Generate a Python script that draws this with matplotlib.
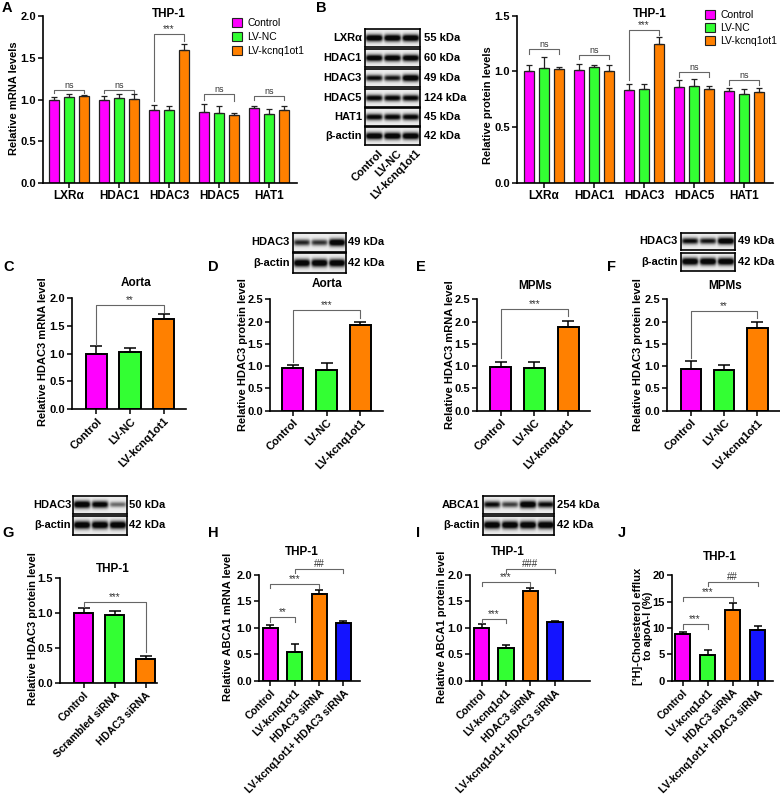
import numpy as np
import matplotlib
matplotlib.use('Agg')
import matplotlib.pyplot as plt
from matplotlib.patches import Patch

plt.rcParams['font.family'] = ['Liberation Sans', 'DejaVu Sans']
plt.rcParams['font.weight'] = 'bold'
plt.rcParams['axes.labelweight'] = 'bold'
plt.rcParams['font.size'] = 8

W, H = 780, 798
fig = plt.figure(figsize=(7.8, 7.98), dpi=100)

# ---------------- data ----------------
colors3 = ['#FF00FF', '#33FF33', '#FF8000']
colors4 = ['#FF00FF', '#33FF33', '#FF8000', '#1414FF']

genes = ['LXRα', 'HDAC1', 'HDAC3', 'HDAC5', 'HAT1']
groups3 = ['Control', 'LV-NC', 'LV-kcnq1ot1']
groups_si = ['Control', 'Scrambled siRNA', 'HDAC3 siRNA']
groups4 = ['Control', 'LV-kcnq1ot1', 'HDAC3 siRNA', 'LV-kcnq1ot1+ HDAC3 siRNA']

A_ctrl = [0.99, 1.00, 0.88, 0.85, 0.90]
A_ctrl_err = [0.04, 0.04, 0.06, 0.10, 0.03]
A_nc = [1.03, 1.02, 0.88, 0.84, 0.83]
A_nc_err = [0.04, 0.05, 0.04, 0.08, 0.06]
A_kc = [1.04, 1.01, 1.59, 0.82, 0.88]
A_kc_err = [0.02, 0.06, 0.08, 0.02, 0.05]

B_ctrl = [1.00, 1.015, 0.835, 0.862, 0.82]
B_ctrl_err = [0.057, 0.05, 0.055, 0.058, 0.03]
B_nc = [1.03, 1.04, 0.845, 0.87, 0.80]
B_nc_err = [0.10, 0.02, 0.045, 0.06, 0.04]
B_kc = [1.025, 1.00, 1.25, 0.84, 0.817]
B_kc_err = [0.01, 0.06, 0.06, 0.03, 0.033]

C_vals = [0.99, 1.03, 1.61]
C_err = [0.14, 0.06, 0.10]
D_vals = [0.95, 0.91, 1.92]
D_err = [0.07, 0.15, 0.06]
E_vals = [0.99, 0.965, 1.88]
E_err = [0.11, 0.135, 0.14]
F_vals = [0.94, 0.91, 1.85]
F_err = [0.17, 0.12, 0.15]
G_vals = [0.995, 0.975, 0.345]
G_err = [0.07, 0.045, 0.045]
H_vals = [0.995, 0.55, 1.63, 1.095]
H_err = [0.055, 0.14, 0.09, 0.035]
I_vals = [0.998, 0.61, 1.70, 1.117]
I_err = [0.07, 0.06, 0.045, 0.02]
J_vals = [8.9, 4.88, 13.4, 9.56]
J_err = [0.3, 0.9, 1.3, 0.85]

# blot band intensities
blotB_names = ['LXRα', 'HDAC1', 'HDAC3', 'HDAC5', 'HAT1', 'β-actin']
blotB_kda = ['55 kDa', '60 kDa', '49 kDa', '124 kDa', '45 kDa', '42 kDa']
blotB_int = [[1, 1, 1], [0.95, 0.95, 0.95], [0.8, 0.75, 1.0], [0.85, 0.85, 0.85],
             [0.85, 0.85, 0.85], [1, 1, 1]]
blotD_int = [[0.7, 0.65, 1.0], [1, 1, 1]]
blotF_int = [[0.8, 0.75, 1.0], [1, 1, 1]]
blotG_int = [[1.0, 0.9, 0.45], [1, 1, 1]]
blotI_int = [[0.8, 0.6, 1.0, 0.8], [1, 1, 1, 1]]


# ---------------- helpers ----------------
def axpx(l, t, r, b):
    return fig.add_axes([l / W, 1 - b / H, (r - l) / W, (b - t) / H])


def ftext(x, y, s, **kw):
    return fig.text(x / W, 1 - y / H, s, **kw)


def style_axes(ax, ylim, yticks, fmt):
    for s in ['top', 'right']:
        ax.spines[s].set_visible(False)
    for s in ['left', 'bottom']:
        ax.spines[s].set_linewidth(1.2)
    ax.set_ylim(*ylim)
    ax.set_yticks(yticks)
    ax.set_yticklabels([fmt.format(v) for v in yticks], fontsize=8, fontweight='bold')
    ax.tick_params(direction='out', length=3.5, width=1.1, pad=1.5)
    ax.set_facecolor('none')


def bracket(ax, x1, x2, y, l1, l2, txt, fs=7):
    ax.plot([x1, x1, x2, x2], [l1, y, y, l2], color='#666666', lw=0.8,
            clip_on=False, zorder=5)
    ax.text((x1 + x2) / 2, y, txt, ha='center', va='bottom', fontsize=fs,
            fontweight='normal', color='#333333')


def blot(left, right, rows, names, inten, kdas, name_x, kda_x):
    for (t, b), name, lane_int, kda in zip(rows, names, inten, kdas):
        ax = axpx(left, t, right, b)
        n = len(lane_int)
        x = np.linspace(0, n, 300)
        y = np.linspace(0, 1, 40)
        X, Y = np.meshgrid(x, y)
        dark = np.zeros_like(X)
        for i, a in enumerate(lane_int):
            fx = 1 / (1 + np.exp((np.abs(X - (i + 0.5)) - 0.44) / 0.05))
            fy = np.exp(-((Y - 0.5) / (0.10 + 0.10 * a)) ** 2)
            dark = np.maximum(dark, a * fx * fy)
        img = 0.93 - 0.9 * np.clip(dark * 1.3, 0, 1)
        ax.imshow(img, cmap='gray', vmin=0, vmax=1, extent=[0, n, 0, 1],
                  aspect='auto', interpolation='bilinear')
        ax.set_xticks([])
        ax.set_yticks([])
        for s in ax.spines.values():
            s.set_linewidth(1.2)
        ftext(name_x, (t + b) / 2, name, ha='right', va='center', fontsize=8)
        ftext(kda_x, (t + b) / 2, kda, ha='left', va='center', fontsize=8)


def simple_panel(box, cats, vals, errs, colors, xlim, width, ylim, yticks, fmt,
                 ylabel, ylab_xy, title, title_xy, capsize, labfs=8):
    ax = axpx(*box)
    x = np.arange(len(cats))
    ax.bar(x, vals, width=width, color=colors, edgecolor='black', linewidth=1.4, zorder=2)
    ax.errorbar(x, vals, yerr=[np.zeros(len(vals)), errs], fmt='none', ecolor='black',
                elinewidth=1.1, capsize=capsize, capthick=1.1, zorder=3)
    ax.set_xlim(*xlim)
    style_axes(ax, ylim, yticks, fmt)
    ax.set_xticks(x)
    ax.set_xticklabels(cats, rotation=45, ha='right', rotation_mode='anchor',
                       fontsize=labfs, fontweight='bold')
    ax.set_ylabel(ylabel, fontsize=8, fontweight='bold')
    ax.yaxis.set_label_coords(ylab_xy[0] / W, 1 - ylab_xy[1] / H, transform=fig.transFigure)
    ax.yaxis.label.set_va('center')
    ftext(title_xy[0], title_xy[1], title, ha='center', va='center', fontsize=8.5)
    return ax


def grouped_panel(box, vals_list, errs_list, xlim, ylim, yticks, ylabel, ylab_xy,
                  title_xy):
    ax = axpx(*box)
    x = np.arange(len(genes))
    offs = [-0.3, 0.0, 0.3]
    for v, e, c, o in zip(vals_list, errs_list, colors3, offs):
        ax.bar(x + o, v, width=0.19, color=c, edgecolor='#222222', linewidth=0.9, zorder=2)
        ax.errorbar(x + o, v, yerr=[np.zeros(len(v)), e], fmt='none', ecolor='#222222',
                    elinewidth=0.9, capsize=2.3, capthick=0.9, zorder=3)
    ax.set_xlim(*xlim)
    style_axes(ax, ylim, yticks, '{:.1f}')
    ax.set_xticks(x)
    ax.set_xticklabels(genes, fontsize=8.5, fontweight='bold')
    ax.set_ylabel(ylabel, fontsize=8, fontweight='bold')
    ax.yaxis.set_label_coords(ylab_xy[0] / W, 1 - ylab_xy[1] / H, transform=fig.transFigure)
    ax.yaxis.label.set_va('center')
    ftext(title_xy[0], title_xy[1], 'THP-1', ha='center', va='center', fontsize=8.5)
    return ax


def legend3(x, y, spacing):
    handles = [Patch(facecolor=c, edgecolor='#222222', linewidth=0.8) for c in colors3]
    fig.legend(handles, groups3, loc='upper left', bbox_to_anchor=(x / W, 1 - y / H),
               frameon=False, prop={'size': 7.5, 'weight': 'normal'},
               handlelength=1.0, handleheight=1.0, handletextpad=0.45,
               labelspacing=spacing, borderpad=0, borderaxespad=0)


# ---------------- Panel A ----------------
axA = grouped_panel((43, 16, 297, 183.3), [A_ctrl, A_nc, A_kc],
                    [A_ctrl_err, A_nc_err, A_kc_err], (-0.52, 4.56), (0, 2.0),
                    [0, 0.5, 1.0, 1.5, 2.0], 'Relative mRNA levels', (14, 98), (169, 14))
bracket(axA, -0.3, 0.3, 1.12, 1.08, 1.08, 'ns', 6.5)
bracket(axA, 0.7, 1.3, 1.12, 1.08, 1.08, 'ns', 6.5)
bracket(axA, 1.7, 2.3, 1.78, 0.98, 1.70, '***', 7)
bracket(axA, 2.7, 3.3, 1.07, 1.00, 0.98, 'ns', 6.5)
bracket(axA, 3.7, 4.3, 1.04, 0.99, 0.99, 'ns', 6.5)
legend3(232, 18, 0.35)

# ---------------- Panel B blot ----------------
rowsB = [(28.7, 46.7), (49.3, 67.3), (69.3, 87.3), (88.7, 106.7), (107.7, 125.7), (127, 145)]
blot(365, 420, rowsB, blotB_names, blotB_int, blotB_kda, 362, 424)
for i, g in enumerate(groups3):
    lx = 365 + (i + 0.5) * (420 - 365) / 3 + 4
    ftext(lx, 148, g, rotation=45, ha='right', va='top', rotation_mode='anchor', fontsize=8)

# ---------------- Panel B chart ----------------
axB = grouped_panel((517, 15.7, 773, 182.7), [B_ctrl, B_nc, B_kc],
                    [B_ctrl_err, B_nc_err, B_kc_err], (-0.54, 4.58), (0, 1.5),
                    [0, 0.5, 1.0, 1.5], 'Relative protein levels', (488, 105), (650, 14))
bracket(axB, -0.3, 0.3, 1.20, 1.16, 1.16, 'ns', 6.5)
bracket(axB, 0.7, 1.3, 1.15, 1.11, 1.11, 'ns', 6.5)
bracket(axB, 1.7, 2.3, 1.37, 0.92, 1.33, '***', 7)
bracket(axB, 2.7, 3.3, 0.99, 0.95, 0.95, 'ns', 6.5)
bracket(axB, 3.7, 4.3, 0.92, 0.88, 0.88, 'ns', 6.5)
legend3(705, 10, 0.25)

# ---------------- Panels C-F ----------------
axC = simple_panel((72, 297.7, 186, 409.3), groups3, C_vals, C_err, colors3, (-0.73, 2.67), 0.63,
                   (0, 2.0), [0, 0.5, 1.0, 1.5, 2.0], '{:.1f}', 'Relative HDAC3 mRNA level',
                   (43, 352), 'Aorta', (136, 283), 4.3)
bracket(axC, 0, 2, 1.87, 1.16, 1.74, '**')

axD = simple_panel((270, 299.3, 383, 410.7), groups3, D_vals, D_err, colors3, (-0.68, 2.67), 0.62,
                   (0, 2.5), [0, 0.5, 1.0, 1.5, 2.0, 2.5], '{:.1f}', 'Relative HDAC3 protein level',
                   (243, 355), 'Aorta', (327, 284), 4.3)
bracket(axD, 0, 2, 2.26, 1.10, 2.08, '***')
blot(293, 346, [(232.7, 251.7), (253.3, 272.7)], ['HDAC3', 'β-actin'], blotD_int,
     ['49 kDa', '42 kDa'], 290, 348)

axE = simple_panel((477, 299.3, 590, 410.7), groups3, E_vals, E_err, colors3, (-0.70, 2.65), 0.62,
                   (0, 2.5), [0, 0.5, 1.0, 1.5, 2.0, 2.5], '{:.1f}', 'Relative HDAC3 mRNA level',
                   (450, 355), 'MPMs', (535, 286), 4.3)
bracket(axE, 0, 2, 2.28, 1.19, 2.12, '***')

axF = simple_panel((667, 299.3, 780, 410.7), groups3, F_vals, F_err, colors3, (-0.72, 2.68), 0.62,
                   (0, 2.5), [0, 0.5, 1.0, 1.5, 2.0, 2.5], '{:.1f}', 'Relative HDAC3 protein level',
                   (638, 355), 'MPMs', (725, 286), 4.3)
bracket(axF, 0, 2, 2.24, 1.19, 2.09, '**')
blot(681, 735, [(232.7, 250), (252.7, 271)], ['HDAC3', 'β-actin'], blotF_int,
     ['49 kDa', '42 kDa'], 678, 738)

# ---------------- Panels G-J ----------------
axG = simple_panel((60, 577.7, 157, 683.3), groups_si, G_vals, G_err, colors3, (-0.76, 2.37), 0.62,
                   (0, 1.5), [0, 0.5, 1.0, 1.5], '{:.1f}', 'Relative HDAC3 protein level',
                   (33, 629), 'THP-1', (113, 569), 4.0, 7.6)
bracket(axG, 0, 2, 1.15, 1.09, 0.45, '***')
blot(73.3, 126.7, [(496, 514.3), (516, 535)], ['HDAC3', 'β-actin'], blotG_int,
     ['50 kDa', '42 kDa'], 71, 129)

axH = simple_panel((259, 574.7, 360, 680.7), groups4, H_vals, H_err, colors4, (-0.47, 3.68), 0.62,
                   (0, 2.0), [0, 0.5, 1.0, 1.5, 2.0], '{:.1f}', 'Relative ABCA1 mRNA level',
                   (228, 627), 'THP-1', (302, 552), 3.0, 7.6)
bracket(axH, 0, 1, 1.20, 1.11, 1.11, '**')
bracket(axH, 0, 2, 1.82, 1.74, 1.74, '***')
bracket(axH, 1, 3, 2.11, 2.03, 2.03, '##')

axI = simple_panel((470, 575, 590, 680.7), groups4, I_vals, I_err, colors4, (-0.47, 4.43), 0.62,
                   (0, 2.0), [0, 0.5, 1.0, 1.5, 2.0], '{:.1f}', 'Relative ABCA1 protein level',
                   (442, 627), 'THP-1', (508, 552), 3.0, 7.6)
bracket(axI, 0, 1, 1.17, 1.09, 1.09, '***')
bracket(axI, 0, 2, 1.87, 1.79, 1.79, '***')
bracket(axI, 1, 3, 2.11, 2.03, 2.03, '###')
blot(482.7, 554, [(496, 514.3), (516, 535)], ['ABCA1', 'β-actin'], blotI_int,
     ['254 kDa', '42 kDa'], 480, 556.7)

axJ = simple_panel((672, 575.3, 773, 680.7), groups4, J_vals, J_err, colors4, (-0.42, 3.62), 0.6,
                   (0, 20), [0, 5, 10, 15, 20], '{:.0f}', '[³H]-Cholesterol efflux\nto apoA-I (%)',
                   (643, 626), 'THP-1', (720, 557), 3.0, 7.6)
axJ.yaxis.label.set_linespacing(1.0)
bracket(axJ, 0, 1, 10.7, 9.9, 9.9, '***')
bracket(axJ, 0, 2, 15.9, 15.1, 15.1, '***')
bracket(axJ, 1, 3, 18.7, 17.9, 17.9, '##')

# ---------------- panel letters ----------------
for letter, (px, py) in zip('ABCDEFGHIJ', [(2, 8), (316, 8), (3, 267), (208, 267), (416, 267),
                                            (607, 267), (2, 533), (208, 533), (416, 533), (618, 533)]):
    ftext(px, py, letter, ha='left', va='center', fontsize=10.5, fontweight='bold')

fig.savefig('out.png', dpi=100)
